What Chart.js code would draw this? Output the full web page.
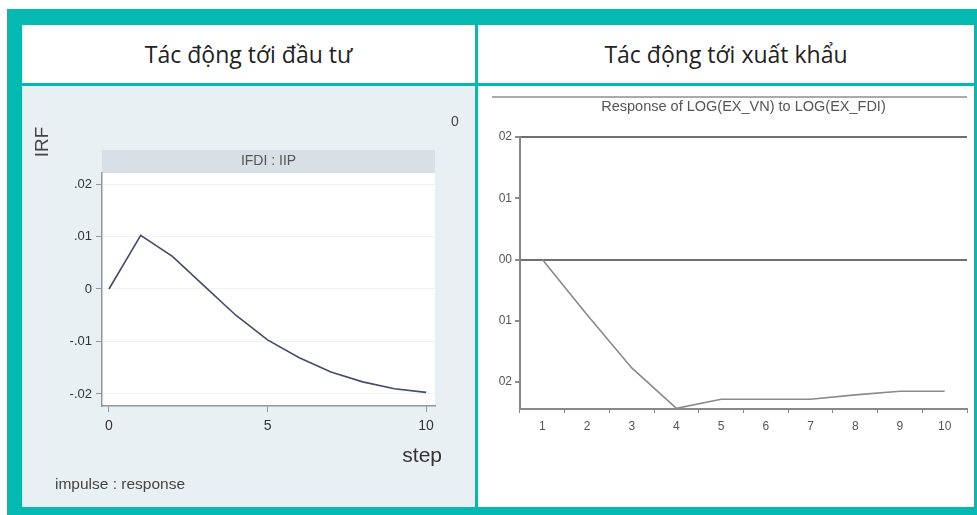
<!DOCTYPE html>
<html>
<head>
<meta charset="utf-8">
<script src="https://cdn.jsdelivr.net/npm/chart.js@4.4.0/dist/chart.umd.min.js"></script>
<style>
html, body { margin: 0; padding: 0; background: #fff; }
body { width: 977px; height: 515px; position: relative; overflow: hidden; font-family: "Open Sans", sans-serif; }
#khung { position: absolute; left: 7px; top: 9px; width: 980px; height: 515px; background: #03b9b1; }
.o { position: absolute; background: #fff; }
.tieude { display: flex; align-items: center; justify-content: center; font-size: 23px; color: #222; }
</style>
</head>
<body>
<div id="khung"></div>
<div class="o tieude" style="left:22px;top:25px;width:453px;height:58px">Tác động tới đầu tư</div>
<div class="o tieude" style="left:478px;top:25px;width:496px;height:58px">Tác động tới xuất khẩu</div>
<div class="o" style="left:22px;top:86px;width:453px;height:421px;background:#e9f0f3"><canvas id="bieuDoDauTu"></canvas></div>
<div class="o" style="left:478px;top:86px;width:496px;height:421px"><canvas id="bieuDoXuatKhau"></canvas></div>

<script>
// --- du lieu: tac dong toi dau tu (Stata IRF) ---
const buocDauTu = [0, 1, 2, 3, 4, 5, 6, 7, 8, 9, 10];
const irfDauTu = [0, 0.0102, 0.0062, 0.0006, -0.0050, -0.0097, -0.0131, -0.0158, -0.0177, -0.0190, -0.0197];
const tickXDauTu = [0, 5, 10];
const tickYDauTu = [-0.02, -0.01, 0, 0.01, 0.02];
const nhanYDauTu = ['-.02', '-.01', '0', '.01', '.02'];

// --- du lieu: tac dong toi xuat khau (EViews) ---
const kyXuatKhau = ['1', '2', '3', '4', '5', '6', '7', '8', '9', '10'];
const irfXuatKhau = [0, -0.0090, -0.0177, -0.0243, -0.0228, -0.0228, -0.0228, -0.0221, -0.0215, -0.0215];
const tickYXuatKhau = [-0.02, -0.01, 0, 0.01, 0.02];
const nhanYXuatKhau = ['02', '01', '00', '01', '02'];

const fontAxis = 'Liberation Sans, Arial, sans-serif';

function datTick(ds) {
    return (scale) => { scale.ticks = ds.map(v => ({ value: v })); };
}

// ---------- bieu do trai ----------
const nenStata = {
    id: 'nenStata',
    beforeDraw(chart) {
        const { ctx, chartArea: a } = chart;
        ctx.save();
        ctx.fillStyle = '#ffffff';
        ctx.fillRect(a.left, a.top, a.right - a.left, a.bottom - a.top);
        ctx.fillStyle = '#d7e0e7';
        ctx.fillRect(a.left, a.top - 23, a.right - a.left, 23);
        ctx.restore();
    },
    afterDraw(chart) {
        const { ctx, chartArea: a } = chart;
        ctx.save();
        ctx.fillStyle = '#555';
        ctx.font = '14px ' + fontAxis;
        ctx.textAlign = 'center';
        ctx.textBaseline = 'middle';
        ctx.fillText('IFDI : IIP', (a.left + a.right) / 2, a.top - 11.5);

        ctx.fillStyle = '#444';
        ctx.font = '19px ' + fontAxis;
        ctx.save();
        ctx.translate(21, 56);
        ctx.rotate(-Math.PI / 2);
        ctx.fillText('IRF', 0, 0);
        ctx.restore();

        ctx.font = '14px ' + fontAxis;
        ctx.fillText('0', 433, 36);

        ctx.fillStyle = '#333';
        ctx.font = '21px ' + fontAxis;
        ctx.textAlign = 'right';
        ctx.fillText('step', 420, 370);

        ctx.fillStyle = '#444';
        ctx.font = '15.5px ' + fontAxis;
        ctx.textAlign = 'left';
        ctx.fillText('impulse : response', 33, 399);
        ctx.restore();
    }
};

new Chart(document.getElementById('bieuDoDauTu'), {
    type: 'line',
    data: {
        datasets: [{
            data: buocDauTu.map((b, i) => ({ x: b, y: irfDauTu[i] })),
            borderColor: '#474a68',
            borderWidth: 1.6,
            pointRadius: 0,
            tension: 0
        }]
    },
    options: {
        responsive: true,
        maintainAspectRatio: false,
        animation: false,
        layout: { padding: { left: 0, top: 87, right: 40, bottom: 61 } },
        plugins: { legend: { display: false }, tooltip: { enabled: false } },
        scales: {
            x: {
                type: 'linear',
                min: -0.22,
                max: 10.28,
                afterBuildTicks: datTick(tickXDauTu),
                afterFit: (s) => { s.height = 40; },
                grid: { drawOnChartArea: false, color: '#8f989f', tickLength: 6 },
                border: { color: '#8f989f', width: 1.5 },
                ticks: { color: '#333', padding: 6, font: { family: fontAxis, size: 14 } }
            },
            y: {
                min: -0.0223,
                max: 0.0221,
                afterBuildTicks: datTick(tickYDauTu),
                afterFit: (s) => { s.width = 80; },
                grid: { color: '#eef2f5', tickColor: '#8f989f', tickLength: 6 },
                border: { color: '#8f989f', width: 1.5 },
                ticks: {
                    color: '#333', padding: 4, font: { family: fontAxis, size: 13 },
                    callback: (v, i) => nhanYDauTu[i]
                }
            }
        }
    },
    plugins: [nenStata]
});

// ---------- bieu do phai ----------
const khungEViews = {
    id: 'khungEViews',
    afterDraw(chart) {
        const { ctx, chartArea: a } = chart;
        ctx.save();
        ctx.strokeStyle = '#aaaaaa';
        ctx.lineWidth = 2;
        ctx.beginPath();
        ctx.moveTo(14, 11);
        ctx.lineTo(a.right, 11);
        ctx.stroke();
        ctx.fillStyle = '#555';
        ctx.font = '14.5px ' + fontAxis;
        ctx.textAlign = 'center';
        ctx.textBaseline = 'middle';
        ctx.fillText('Response of LOG(EX_VN) to LOG(EX_FDI)', (a.left + a.right) / 2, 21);
        ctx.restore();
    }
};

new Chart(document.getElementById('bieuDoXuatKhau'), {
    type: 'line',
    data: {
        labels: kyXuatKhau,
        datasets: [{
            data: irfXuatKhau,
            borderColor: '#8a8a8a',
            borderWidth: 1.6,
            pointRadius: 0,
            tension: 0
        }]
    },
    options: {
        responsive: true,
        maintainAspectRatio: false,
        animation: false,
        layout: { padding: { left: 0, top: 51, right: 7, bottom: 58 } },
        plugins: { legend: { display: false }, tooltip: { enabled: false } },
        scales: {
            x: {
                offset: true,
                afterFit: (s) => { s.height = 40; },
                grid: { offset: true, drawOnChartArea: false, color: '#888', tickLength: 4 },
                border: { color: '#888', width: 2 },
                ticks: { color: '#555', padding: 6, font: { family: fontAxis, size: 12 } }
            },
            y: {
                min: -0.0244,
                max: 0.02,
                afterBuildTicks: datTick(tickYXuatKhau),
                afterFit: (s) => { s.width = 42; },
                grid: {
                    color: (c) => (c.tick && (c.tick.value === 0 || c.tick.value === 0.02)) ? '#6f6f6f' : 'transparent',
                    lineWidth: 2,
                    tickColor: '#888',
                    tickLength: 5
                },
                border: { color: '#888', width: 2 },
                ticks: {
                    color: '#555', padding: 3, font: { family: fontAxis, size: 12 },
                    callback: (v, i) => nhanYXuatKhau[i]
                }
            }
        }
    },
    plugins: [khungEViews]
});
</script>
</body>
</html>
